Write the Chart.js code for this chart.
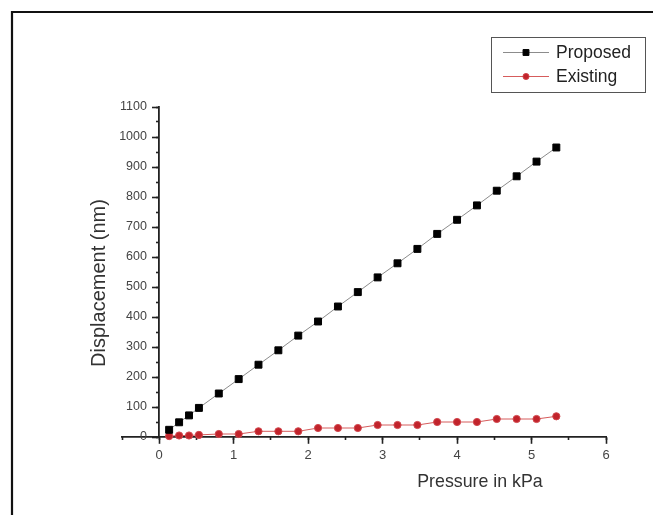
<!DOCTYPE html>
<html><head><meta charset="utf-8">
<script src="https://cdn.jsdelivr.net/npm/chart.js@4.4.1/dist/chart.umd.min.js"></script>
<style>html,body{margin:0;padding:0;background:#fff;overflow:hidden}canvas{display:block}</style>
</head><body>
<canvas id="c" width="653" height="515"></canvas>
<script>
// ---- data ----
const pressure = [0.133, 0.267, 0.4, 0.533, 0.8, 1.067, 1.333, 1.6, 1.867, 2.133, 2.4, 2.667, 2.933, 3.2, 3.467, 3.733, 4.0, 4.267, 4.533, 4.8, 5.067, 5.333];
const proposed = [24, 49, 72, 97, 145, 193, 241, 289, 338, 385, 435, 483, 532, 579, 627, 677, 724, 772, 821, 869, 918, 965];
const existing = [3, 5, 5, 7, 10, 10, 19, 19, 19, 30, 30, 30, 40, 40, 40, 50, 50, 50, 60, 60, 60, 69];
const seriesNames = ['Proposed', 'Existing'];
const xTitle = 'Pressure in kPa';
const yTitle = 'Displacement (nm)';
const xRange = [-0.5, 6];
const yRange = [0, 1100];
const xSteps = [1, 0.5];
const ySteps = [100, 50];

const FONT = '"Liberation Sans", Arial, sans-serif';
const AXIS = '#222';

const decor = {
  id: 'decor',
  beforeDraw(chart) {
    const ctx = chart.ctx;
    ctx.save();
    ctx.fillStyle = '#fff';
    ctx.fillRect(0, 0, chart.width, chart.height);
    ctx.restore();
  },
  afterDraw(chart) {
    const ctx = chart.ctx;
    ctx.save();
    // outer frame (top + left)
    ctx.strokeStyle = '#111';
    ctx.lineWidth = 2.2;
    ctx.beginPath();
    ctx.moveTo(12, chart.height);
    ctx.lineTo(12, 12);
    ctx.lineTo(chart.width, 12);
    ctx.stroke();
    // axis titles
    ctx.fillStyle = '#333';
    ctx.textAlign = 'center';
    ctx.textBaseline = 'middle';
    ctx.font = '17.8px ' + FONT;
    ctx.fillText(xTitle, 480, 482);
    ctx.save();
    ctx.translate(99, 283);
    ctx.rotate(-Math.PI / 2);
    ctx.font = '20px ' + FONT;
    ctx.fillText(yTitle, 0, 0);
    ctx.restore();
    // legend
    const bx = 491.5, by = 37.5, bw = 154, bh = 55;
    ctx.strokeStyle = '#555';
    ctx.lineWidth = 1;
    ctx.strokeRect(bx, by, bw, bh);
    chart.data.datasets.forEach((ds, i) => {
      const y = 52 + i * 24;
      ctx.strokeStyle = ds.borderColor;
      ctx.lineWidth = 1;
      ctx.beginPath();
      ctx.moveTo(503, y + 0.5);
      ctx.lineTo(549, y + 0.5);
      ctx.stroke();
      ctx.fillStyle = ds.pointBackgroundColor;
      ctx.strokeStyle = ds.pointBorderColor;
      ctx.lineWidth = ds.pointBorderWidth;
      if (Chart.helpers && Chart.helpers.drawPoint) {
        Chart.helpers.drawPoint(ctx, {pointStyle: ds.pointStyle, radius: ds.pointRadius * 0.85, rotation: 0, borderWidth: ds.pointBorderWidth}, 526, y + 0.5);
      }
      ctx.fillStyle = '#222';
      ctx.font = '17.5px ' + FONT;
      ctx.textAlign = 'left';
      ctx.textBaseline = 'middle';
      ctx.fillText(ds.label, 556, y + 1);
    });
    ctx.restore();
  }
};

const plain = v => String(v);

new Chart(document.getElementById('c'), {
  type: 'line',
  data: {
    datasets: [
      {
        label: seriesNames[0],
        data: pressure.map((x, i) => ({x, y: proposed[i]})),
        borderColor: '#8c8c8c', borderWidth: 1,
        pointStyle: 'rect', pointRadius: 4.9,
        pointBackgroundColor: '#000', pointBorderColor: '#000', pointBorderWidth: 1,
        clip: false
      },
      {
        label: seriesNames[1],
        data: pressure.map((x, i) => ({x, y: existing[i]})),
        borderColor: '#d65c5c', borderWidth: 1,
        pointStyle: 'circle', pointRadius: 3.6,
        pointBackgroundColor: '#c1232b', pointBorderColor: '#d2474d', pointBorderWidth: 1,
        clip: false
      }
    ]
  },
  options: {
    responsive: false,
    animation: false,
    devicePixelRatio: 1,
    layout: {padding: {left: 122, right: 47, top: 107, bottom: 78}},
    plugins: {legend: {display: false}, tooltip: {enabled: false}},
    elements: {line: {tension: 0}},
    scales: {
      x: {
        type: 'linear', position: {y: 0}, min: xRange[0], max: xRange[1],
        ticks: {stepSize: xSteps[0], includeBounds: false, color: '#444', font: {family: FONT, size: 13}, padding: 5, callback: plain},
        grid: {display: true, drawOnChartArea: false, drawTicks: true, tickLength: 6, tickWidth: 1.6, tickColor: AXIS},
        border: {display: true, color: AXIS, width: 1.8}
      },
      xMinor: {
        type: 'linear', axis: 'x', position: {y: 0}, min: xRange[0], max: xRange[1],
        ticks: {stepSize: xSteps[1], display: false},
        grid: {display: true, drawOnChartArea: false, drawTicks: true, tickLength: 3, tickWidth: 1.6, tickColor: AXIS},
        border: {display: false}
      },
      y: {
        type: 'linear', position: {x: 0}, min: yRange[0], max: yRange[1],
        ticks: {stepSize: ySteps[0], display: false},
        grid: {display: true, drawOnChartArea: false, drawTicks: true, tickLength: 6, tickWidth: 1.6, tickColor: AXIS},
        border: {display: true, color: AXIS, width: 1.8}
      },
      yLabels: {
        type: 'linear', axis: 'y', position: {x: -0.165}, min: yRange[0], max: yRange[1],
        ticks: {stepSize: ySteps[0], color: '#444', font: {family: FONT, size: 12.5}, callback: plain},
        grid: {display: false},
        border: {display: false}
      },
      yMinor: {
        type: 'linear', axis: 'y', position: {x: 0}, min: yRange[0], max: yRange[1],
        ticks: {stepSize: ySteps[1], display: false},
        grid: {display: true, drawOnChartArea: false, drawTicks: true, tickLength: 3, tickWidth: 1.6, tickColor: AXIS},
        border: {display: false}
      }
    }
  },
  plugins: [decor]
});
</script>
</body></html>
